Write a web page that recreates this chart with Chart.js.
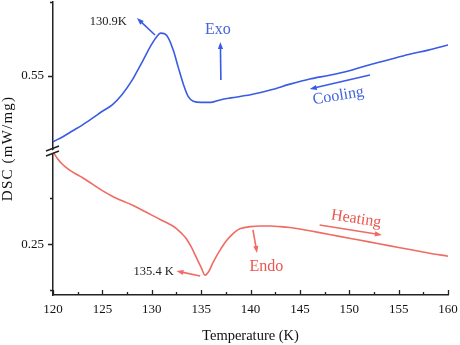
<!DOCTYPE html>
<html>
<head>
<meta charset="utf-8">
<script src="https://cdn.jsdelivr.net/npm/chart.js@4.4.1/dist/chart.umd.min.js"></script>
<style>
  html, body { margin: 0; padding: 0; background: #fff; }
</style>
</head>
<body>
<canvas id="dscChart" width="460" height="345"></canvas>
<script>
// Cooling run (exothermic peak)
const coolTemp = [120, 121, 122, 123, 124, 125, 126, 127, 128, 128.5, 129, 129.5, 130, 130.5, 130.9,
  131.3, 131.7, 132.2, 132.7, 133.2, 133.7, 134.2, 135, 136, 137, 138, 140, 142, 144, 146, 148,
  150, 152, 154, 156, 158, 160];
const coolDsc = [0.5055, 0.509, 0.513, 0.517, 0.5215, 0.5262, 0.5305, 0.5375, 0.547, 0.553, 0.559,
  0.5655, 0.5715, 0.5765, 0.579, 0.5785, 0.5755, 0.567, 0.5555, 0.5445, 0.536, 0.533, 0.5322,
  0.5322, 0.534, 0.5352, 0.5373, 0.5405, 0.5445, 0.548, 0.5505, 0.5535, 0.5575, 0.561, 0.5645,
  0.5675, 0.571];

// Heating run (endothermic dip)
const heatTemp = [120, 120.5, 121, 122, 123, 124, 125, 126, 127, 128, 129, 130, 131, 132, 132.5, 133,
  133.5, 134, 134.5, 135, 135.4, 135.8, 136.2, 136.6, 137, 137.5, 138, 138.5, 139, 140, 141, 142,
  143, 144, 145, 146, 148, 150, 152, 154, 156, 158, 160];
const heatDsc = [0.350, 0.342, 0.336, 0.328, 0.322, 0.315, 0.308, 0.302, 0.297, 0.2925, 0.287, 0.2815,
  0.276, 0.2705, 0.267, 0.262, 0.256, 0.247, 0.236, 0.225, 0.2165, 0.221, 0.230, 0.238, 0.245,
  0.253, 0.259, 0.264, 0.267, 0.269, 0.2697, 0.2697, 0.269, 0.268, 0.2665, 0.2645, 0.2605, 0.2565,
  0.2525, 0.2485, 0.2445, 0.2405, 0.237];

const coolPeak = 130.9;
const heatDip = 135.4;

// axis ticks: labelled ones and bare ones
const tempTicks = [120, 125, 130, 135, 140, 145, 150, 155, 160];
const coolMajor = [0.55];
const coolMinor = [0.60];
const heatMajor = [0.25];
const heatMinor = [0.20, 0.30];

const serif = '"Liberation Serif", "Times New Roman", serif';
const blue = '#3a5be3';
const blueText = '#4464dc';
const red = '#f06b62';
const redText = '#e9574e';
const ink = '#222';

const pairs = (xs, ys) => xs.map((x, i) => ({ x: x, y: ys[i] }));

function arrow(ctx, x1, y1, x2, y2, color) {
  const ang = Math.atan2(y2 - y1, x2 - x1);
  const head = 7;
  ctx.save();
  ctx.strokeStyle = color;
  ctx.fillStyle = color;
  ctx.lineWidth = 1.6;
  ctx.beginPath();
  ctx.moveTo(x1, y1);
  ctx.lineTo(x2 - Math.cos(ang) * head * 0.6, y2 - Math.sin(ang) * head * 0.6);
  ctx.stroke();
  ctx.beginPath();
  ctx.moveTo(x2, y2);
  ctx.lineTo(x2 - head * Math.cos(ang) + 2.6 * Math.sin(ang), y2 - head * Math.sin(ang) - 2.6 * Math.cos(ang));
  ctx.lineTo(x2 - head * Math.cos(ang) - 2.6 * Math.sin(ang), y2 - head * Math.sin(ang) + 2.6 * Math.cos(ang));
  ctx.closePath();
  ctx.fill();
  ctx.restore();
}

const notes = [
  { text: coolPeak + 'K', x: 125.6, y: 0.5865, axis: 'yCool', color: ink, size: 12.5 },
  { text: 'Exo', x: 136.7, y: 0.5811, axis: 'yCool', color: blueText, size: 16 },
  { text: 'Cooling', x: 148.9, y: 0.5365, axis: 'yCool', color: blueText, size: 16, angle: -9 },
  { text: 'Heating', x: 150.7, y: 0.2773, axis: 'yHeat', color: redText, size: 16, angle: 9 },
  { text: 'Endo', x: 141.6, y: 0.2253, axis: 'yHeat', color: redText, size: 16 },
  { text: heatDip + ' K', x: 130.2, y: 0.2199, axis: 'yHeat', color: ink, size: 12.5 }
];

const pointers = [
  { from: [130.33, 0.5777], to: [128.5, 0.5892], axis: 'yCool', color: blue },
  { from: [137.0, 0.5473], to: [136.95, 0.5730], axis: 'yCool', color: blue },
  { from: [152.1, 0.5507], to: [146.0, 0.5412], axis: 'yCool', color: blue },
  { from: [147.0, 0.2708], to: [153.3, 0.2600], axis: 'yHeat', color: red },
  { from: [140.25, 0.2654], to: [140.66, 0.2405], axis: 'yHeat', color: red },
  { from: [134.9, 0.2156], to: [132.5, 0.2210], axis: 'yHeat', color: red }
];

// inward x ticks, outward y ticks, axis break, titles and annotations
const decor = {
  id: 'decor',
  afterDraw(chart) {
    const ctx = chart.ctx;
    const area = chart.chartArea;
    const xs = chart.scales.x;
    ctx.save();
    ctx.strokeStyle = ink;
    ctx.lineWidth = 1.3;
    ctx.beginPath();
    for (let t = 120; t <= 160; t += 2.5) {
      const px = Math.round(xs.getPixelForValue(t)) + 0.5;
      const len = (t % 5 === 0) ? 5 : 3;
      ctx.moveTo(px, area.bottom);
      ctx.lineTo(px, area.bottom - len);
    }
    [['yCool', coolMajor, coolMinor], ['yHeat', heatMajor, heatMinor]].forEach(([id, major, minor]) => {
      const s = chart.scales[id];
      major.forEach(v => {
        const py = Math.round(s.getPixelForValue(v)) + 0.5;
        ctx.moveTo(area.left - 5, py);
        ctx.lineTo(area.left, py);
      });
      minor.forEach(v => {
        const py = Math.round(s.getPixelForValue(v)) + 0.5;
        ctx.moveTo(area.left - 3, py);
        ctx.lineTo(area.left, py);
      });
    });
    ctx.stroke();

    // break marks where the two y ranges meet
    const by = chart.scales.yCool.bottom;
    const bx = area.left;
    ctx.fillStyle = '#fff';
    ctx.beginPath();
    ctx.moveTo(bx - 2, by + 1);
    ctx.lineTo(bx + 2, by - 1);
    ctx.lineTo(bx + 2, by + 2);
    ctx.lineTo(bx - 2, by + 4);
    ctx.closePath();
    ctx.fill();
    ctx.lineWidth = 1.4;
    ctx.beginPath();
    ctx.moveTo(bx - 7, by + 1);
    ctx.lineTo(bx + 6, by - 4);
    ctx.moveTo(bx - 7, by + 6);
    ctx.lineTo(bx + 6, by + 1);
    ctx.stroke();

    // axis titles
    ctx.fillStyle = '#111';
    ctx.textAlign = 'center';
    ctx.textBaseline = 'middle';
    ctx.font = '14.5px ' + serif;
    ctx.fillText('Temperature (K)', (area.left + area.right) / 2, 336);
    ctx.save();
    ctx.translate(8, (area.top + area.bottom) / 2);
    ctx.rotate(-Math.PI / 2);
    ctx.font = '15px ' + serif;
    ctx.letterSpacing = '1.2px';
    ctx.fillText('DSC (mW/mg)', 0, 0);
    ctx.restore();

    // annotations
    notes.forEach(n => {
      const s = chart.scales[n.axis];
      ctx.save();
      ctx.translate(xs.getPixelForValue(n.x), s.getPixelForValue(n.y));
      if (n.angle) ctx.rotate(n.angle * Math.PI / 180);
      ctx.fillStyle = n.color;
      ctx.font = n.size + 'px ' + serif;
      ctx.fillText(n.text, 0, 0);
      ctx.restore();
    });
    pointers.forEach(p => {
      const s = chart.scales[p.axis];
      arrow(ctx,
        xs.getPixelForValue(p.from[0]), s.getPixelForValue(p.from[1]),
        xs.getPixelForValue(p.to[0]), s.getPixelForValue(p.to[1]), p.color);
    });
    ctx.restore();
  }
};

// no label overhang padding, so the plot box sits exactly on the layout padding
function fixBox(s, size) {
  if (s.isHorizontal()) s.height = size; else s.width = size;
  s.paddingTop = 0;
  s.paddingBottom = 0;
  s.paddingLeft = 0;
  s.paddingRight = 0;
}

const yCommon = {
  type: 'linear',
  position: 'left',
  stack: 'dsc',
  grid: { drawOnChartArea: false, drawTicks: false },
  border: { color: ink, width: 1.5 },
  afterFit: s => fixBox(s, 53)
};

new Chart(document.getElementById('dscChart'), {
  type: 'line',
  data: {
    datasets: [
      {
        label: 'Cooling',
        data: pairs(coolTemp, coolDsc),
        yAxisID: 'yCool',
        borderColor: blue,
        borderWidth: 1.6,
        pointRadius: 0,
        cubicInterpolationMode: 'monotone',
        fill: false
      },
      {
        label: 'Heating',
        data: pairs(heatTemp, heatDsc),
        yAxisID: 'yHeat',
        borderColor: red,
        borderWidth: 1.6,
        pointRadius: 0,
        cubicInterpolationMode: 'monotone',
        fill: false
      }
    ]
  },
  options: {
    responsive: false,
    animation: false,
    layout: { padding: { top: 2, right: 12, left: 0, bottom: 0 } },
    plugins: { legend: { display: false }, tooltip: { enabled: false } },
    scales: {
      x: {
        type: 'linear',
        min: 120,
        max: 160,
        afterBuildTicks: s => { s.ticks = tempTicks.map(v => ({ value: v })); },
        ticks: { color: '#111', font: { family: serif, size: 13 }, padding: 7, maxRotation: 0 },
        grid: { drawOnChartArea: false, drawTicks: false },
        border: { color: ink, width: 1.5 },
        afterFit: s => fixBox(s, 50)
      },
      // stacked left axes: the later one is laid out on top
      yHeat: Object.assign({}, yCommon, {
        stackWeight: 145,
        min: 0.195,
        max: 0.352,
        afterBuildTicks: s => { s.ticks = heatMajor.concat(heatMinor).map(v => ({ value: v })); },
        ticks: {
          color: '#111', font: { family: serif, size: 13 }, padding: 9,
          callback: v => heatMajor.includes(v) ? v.toFixed(2) : ''
        }
      }),
      yCool: Object.assign({}, yCommon, {
        stackWeight: 148,
        min: 0.50,
        max: 0.60,
        afterBuildTicks: s => { s.ticks = coolMajor.concat(coolMinor).map(v => ({ value: v })); },
        ticks: {
          color: '#111', font: { family: serif, size: 13 }, padding: 9,
          callback: v => coolMajor.includes(v) ? v.toFixed(2) : ''
        }
      })
    }
  },
  plugins: [decor]
});
</script>
</body>
</html>
